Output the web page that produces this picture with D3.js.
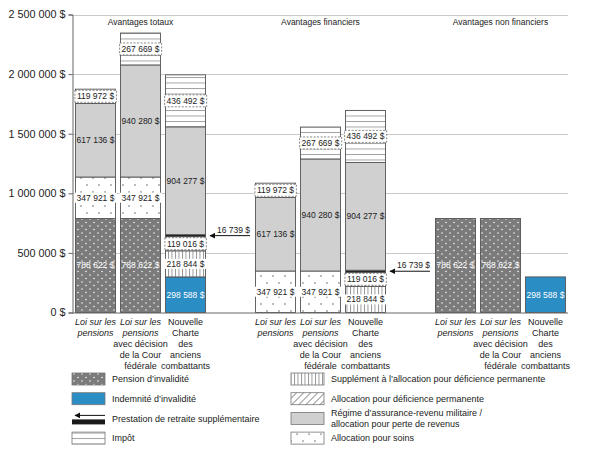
<!DOCTYPE html>
<html>
<head>
<meta charset="utf-8">
<script src="https://cdn.jsdelivr.net/npm/d3@7"></script>
<style>
  body { margin: 0; background: #fff; }
  svg { font-family: "Liberation Sans", Arial, sans-serif; }
</style>
</head>
<body>
<script>
// Chart data
const groups = ["Avantages totaux", "Avantages financiers", "Avantages non financiers"];
const categoryLines = [
  [["Loi sur les", true], ["pensions", true]],
  [["Loi sur les", true], ["pensions", true], ["avec décision", false], ["de la Cour", false], ["fédérale", false]],
  [["Nouvelle", false], ["Charte", false], ["des", false], ["anciens", false], ["combattants", false]]
];

// one value per bar: 3 groups x 3 categories
const pension    = [788622, 788622, 0,      0,      0,      0,      788622, 788622, 0];
const indemnite  = [0,      0,      298588, 0,      0,      0,      0,      0,      298588];
const soins      = [347921, 347921, 0,      347921, 347921, 0,      0,      0,      0];
const supplement = [0,      0,      218844, 0,      0,      218844, 0,      0,      0];
const apd        = [0,      0,      119016, 0,      0,      119016, 0,      0,      0];
const prestation = [0,      0,      16739,  0,      0,      16739,  0,      0,      0];
const rarm       = [617136, 940280, 904277, 617136, 940280, 904277, 0,      0,      0];
const impot      = [119972, 267669, 436492, 119972, 267669, 436492, 0,      0,      0];

const yTicks = [0, 500000, 1000000, 1500000, 2000000, 2500000];

const legendLeft = [
  ["pension", ["Pension d’invalidité"]],
  ["indemnite", ["Indemnité d’invalidité"]],
  ["prestation", ["Prestation de retraite supplémentaire"]],
  ["impot", ["Impôt"]]
];
const legendRight = [
  ["supplement", ["Supplément à l’allocation pour déficience permanente"]],
  ["apd", ["Allocation pour déficience permanente"]],
  ["rarm", ["Régime d’assurance-revenu militaire /", "allocation pour perte de revenus"]],
  ["soins", ["Allocation pour soins"]]
];

const keys = ["pension", "indemnite", "soins", "supplement", "apd", "prestation", "rarm", "impot"];
const series = { pension, indemnite, soins, supplement, apd, prestation, rarm, impot };

const rows = d3.range(9).map(i => {
  const r = { bar: "b" + i };
  keys.forEach(k => (r[k] = series[k][i]));
  return r;
});

const width = 600;
const height = 450;

const svg = d3.select("body").append("svg")
  .attr("width", width)
  .attr("height", height);

// Patterns
const defs = svg.append("defs");

const pPension = defs.append("pattern").attr("id", "p-pension")
  .attr("patternUnits", "userSpaceOnUse").attr("width", 8).attr("height", 7);
pPension.append("rect").attr("width", 8).attr("height", 7).attr("fill", "#7b7b7b");
pPension.append("circle").attr("cx", 2).attr("cy", 2).attr("r", 0.75).attr("fill", "#fff");
pPension.append("circle").attr("cx", 6).attr("cy", 5.5).attr("r", 0.75).attr("fill", "#fff");

const pSoins = defs.append("pattern").attr("id", "p-soins")
  .attr("patternUnits", "userSpaceOnUse").attr("width", 12).attr("height", 14);
pSoins.append("rect").attr("width", 12).attr("height", 14).attr("fill", "#fff");
pSoins.append("circle").attr("cx", 3).attr("cy", 3).attr("r", 0.7).attr("fill", "#444");
pSoins.append("circle").attr("cx", 9).attr("cy", 10).attr("r", 0.7).attr("fill", "#444");

const pImpot = defs.append("pattern").attr("id", "p-impot")
  .attr("patternUnits", "userSpaceOnUse").attr("width", 6).attr("height", 5.5);
pImpot.append("rect").attr("width", 6).attr("height", 5.5).attr("fill", "#fff");
pImpot.append("line").attr("x1", 0).attr("x2", 6).attr("y1", 0.5).attr("y2", 0.5)
  .attr("stroke", "#8a8a8a").attr("stroke-width", 0.8);

const pSupp = defs.append("pattern").attr("id", "p-supplement")
  .attr("patternUnits", "userSpaceOnUse").attr("width", 3.5).attr("height", 6);
pSupp.append("rect").attr("width", 3.5).attr("height", 6).attr("fill", "#fff");
pSupp.append("line").attr("x1", 0.5).attr("x2", 0.5).attr("y1", 0).attr("y2", 6)
  .attr("stroke", "#777").attr("stroke-width", 0.8);

const pApd = defs.append("pattern").attr("id", "p-apd")
  .attr("patternUnits", "userSpaceOnUse").attr("width", 5).attr("height", 5)
  .attr("patternTransform", "rotate(45)");
pApd.append("rect").attr("width", 5).attr("height", 5).attr("fill", "#fff");
pApd.append("line").attr("x1", 0.5).attr("x2", 0.5).attr("y1", 0).attr("y2", 5)
  .attr("stroke", "#777").attr("stroke-width", 0.8);

const fills = {
  pension: "url(#p-pension)",
  indemnite: "#2a8dc4",
  soins: "url(#p-soins)",
  supplement: "url(#p-supplement)",
  apd: "url(#p-apd)",
  prestation: "#1a1a1a",
  rarm: "#d0d0d0",
  impot: "url(#p-impot)"
};

// Scales
const slots = ["b0", "b1", "b2", "g1", "b3", "b4", "b5", "g2", "b6", "b7", "b8"];
const x = d3.scaleBand().domain(slots).range([72, 569])
  .paddingInner(4 / 45).paddingOuter(0.067);
const y = d3.scaleLinear().domain([0, 2500000]).range([312.5, 14.5]);

const fmt = v => d3.format(",")(v).replace(/,/g, " ") + " $";

// Gridlines
svg.append("g")
  .selectAll("line")
  .data(yTicks.slice(1))
  .join("line")
  .attr("x1", 72).attr("x2", 568)
  .attr("y1", d => Math.round(y(d)) + 0.5).attr("y2", d => Math.round(y(d)) + 0.5)
  .attr("stroke", "#c9c9c9");

// Y axis
const yAxis = svg.append("g")
  .attr("transform", "translate(72.5,0)")
  .call(d3.axisLeft(y).tickValues(yTicks).tickSize(4).tickPadding(3).tickFormat(fmt));
yAxis.select(".domain").attr("stroke", "#666");
yAxis.selectAll(".tick line").attr("stroke", "#666");
yAxis.selectAll(".tick text")
  .attr("font-size", 10.8).attr("fill", "#222")
  .attr("font-family", null);

// Bars
const stack = d3.stack().keys(keys)(rows);

const layers = svg.append("g").selectAll("g")
  .data(stack)
  .join("g")
  .attr("fill", d => fills[d.key]);

layers.selectAll("rect")
  .data(d => d.filter(p => p[1] > p[0]).map(p => ({ key: d.key, p })))
  .join("rect")
  .attr("x", d => x(d.p.data.bar) + 0.5)
  .attr("width", x.bandwidth() - 1)
  .attr("y", d => y(d.p[1]))
  .attr("height", d => y(d.p[0]) - y(d.p[1]))
  .attr("stroke", "#555")
  .attr("stroke-width", 0.9);

// Baseline
svg.append("line")
  .attr("x1", 72).attr("x2", 568)
  .attr("y1", y(0) + 0.5).attr("y2", y(0) + 0.5)
  .attr("stroke", "#666");

// Value labels
const labelData = [];
stack.forEach(s => {
  if (s.key === "prestation") return;
  s.forEach(p => {
    if (p[1] > p[0]) labelData.push({ key: s.key, p, v: p[1] - p[0] });
  });
});

const labels = svg.append("g").selectAll("g")
  .data(labelData)
  .join("g")
  .attr("transform", d => `translate(${x(d.p.data.bar) + x.bandwidth() / 2},${(y(d.p[0]) + y(d.p[1])) / 2})`);

labels.append("text")
  .attr("text-anchor", "middle")
  .attr("dy", "0.35em")
  .attr("font-size", 8.5)
  .attr("fill", d => (d.key === "pension" || d.key === "indemnite") ? "#fff" : "#222")
  .text(d => fmt(d.v));

labels.filter(d => ["impot", "apd", "supplement", "soins"].includes(d.key))
  .insert("rect", "text")
  .each(function (d) {
    const bb = this.parentNode.querySelector("text").getBBox();
    const dashed = d.key === "impot" || d.key === "apd";
    const half = (y(d.p[0]) - y(d.p[1])) / 2;
    d3.select(this)
      .attr("x", bb.x - 2).attr("width", bb.width + 4)
      .attr("y", dashed ? Math.max(bb.y - 1, -half + 1) : bb.y)
      .attr("height", dashed ? Math.min(bb.height + 2, 2 * half - 2) : bb.height)
      .attr("fill", "#fff")
      .attr("stroke", dashed ? "#555" : "none")
      .attr("stroke-width", 0.7)
      .attr("stroke-dasharray", "2,1.5");
  });

// Arrow annotation for prestation de retraite supplémentaire
defs.append("marker").attr("id", "arrow")
  .attr("viewBox", "0 0 10 10").attr("refX", 1).attr("refY", 5)
  .attr("markerWidth", 6).attr("markerHeight", 6).attr("orient", "auto")
  .append("path").attr("d", "M0,5 L10,0 L10,10 Z").attr("fill", "#111");

const arrowData = stack.find(s => s.key === "prestation").filter(p => p[1] > p[0]);
const arrows = svg.append("g").selectAll("g")
  .data(arrowData)
  .join("g")
  .attr("transform", d => `translate(${x(d.data.bar) + x.bandwidth() + 2},${(y(d[0]) + y(d[1])) / 2})`);
arrows.append("line")
  .attr("x1", 2).attr("x2", 42).attr("y1", 0).attr("y2", 0)
  .attr("stroke", "#111").attr("stroke-width", 1)
  .attr("marker-start", "url(#arrow)");
arrows.append("text")
  .attr("x", 42).attr("y", -3)
  .attr("text-anchor", "end")
  .attr("font-size", 8.5).attr("fill", "#222")
  .text(d => fmt(d[1] - d[0]));

// Group titles
svg.append("g").selectAll("text")
  .data(groups)
  .join("text")
  .attr("x", (d, i) => (x("b" + i * 3) + x("b" + (i * 3 + 2)) + x.bandwidth()) / 2)
  .attr("y", 25)
  .attr("text-anchor", "middle")
  .attr("font-size", 8.5)
  .attr("fill", "#222")
  .text(d => d);

// Category labels
const catLabels = svg.append("g").selectAll("text")
  .data(d3.range(9))
  .join("text")
  .attr("text-anchor", "middle")
  .attr("font-size", 9)
  .attr("fill", "#222");
catLabels.selectAll("tspan")
  .data(i => categoryLines[i % 3].map(l => ({ i, l })))
  .join("tspan")
  .attr("x", d => x("b" + d.i) + x.bandwidth() / 2)
  .attr("y", (d, j) => 325 + j * 11)
  .attr("font-style", d => d.l[1] ? "italic" : "normal")
  .text(d => d.l[0]);

// Legend
function drawLegend(items, sx, tx) {
  const g = svg.append("g");
  const row = g.selectAll("g")
    .data(items)
    .join("g")
    .attr("transform", (d, i) => `translate(0,${379 + i * 19.7})`);

  row.filter(d => d[0] !== "prestation")
    .append("rect")
    .attr("x", sx).attr("y", -6)
    .attr("width", 33).attr("height", 12)
    .attr("fill", d => fills[d[0]])
    .attr("stroke", "#777").attr("stroke-width", 0.8);

  const pr = row.filter(d => d[0] === "prestation");
  pr.append("line")
    .attr("x1", sx + 3).attr("x2", sx + 33).attr("y1", -3).attr("y2", -3)
    .attr("stroke", "#111").attr("stroke-width", 1)
    .attr("marker-start", "url(#arrow)");
  pr.append("rect")
    .attr("x", sx).attr("y", 1).attr("width", 33).attr("height", 5)
    .attr("fill", fills.prestation);

  row.append("text")
    .attr("font-size", 9)
    .attr("fill", "#222")
    .selectAll("tspan")
    .data(d => d[1].map((t, j) => ({ t, j, n: d[1].length })))
    .join("tspan")
    .attr("x", tx)
    .attr("y", d => (d.j - (d.n - 1) / 2) * 10.5)
    .attr("dy", "0.35em")
    .text(d => d.t);
}
drawLegend(legendLeft, 72, 112);
drawLegend(legendRight, 291, 331);
</script>
</body>
</html>
